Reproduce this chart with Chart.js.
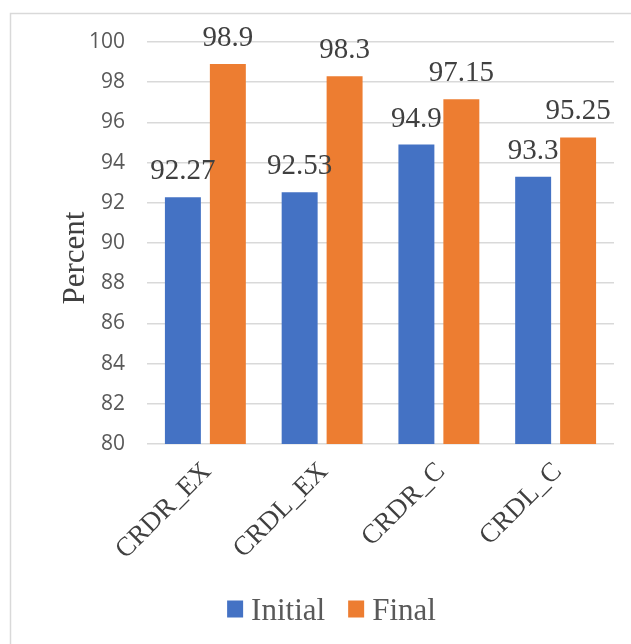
<!DOCTYPE html>
<html>
<head>
<meta charset="utf-8">
<script src="https://cdn.jsdelivr.net/npm/chart.js@4/dist/chart.umd.min.js"></script>
<style>
  html, body { margin: 0; padding: 0; background: #ffffff; }
  #wrap { position: relative; width: 631px; height: 644px; }
</style>
</head>
<body>
<div id="wrap"><canvas id="c" width="631" height="644"></canvas></div>
<script>
// Categories and series
const categories = ['CRDR_EX', 'CRDL_EX', 'CRDR_C', 'CRDL_C'];
const initialValues = [92.27, 92.53, 94.9, 93.3];
const finalValues = [98.9, 98.3, 97.15, 95.25];
const seriesNames = ['Initial', 'Final'];
const seriesColors = ['#4472C4', '#ED7D31'];
const yTitle = 'Percent';
const yMin = 80, yMax = 100, yStep = 2;

const SERIF = '"Liberation Serif", "Times New Roman", serif';
const SANS = '"Open Sans", "Liberation Sans", sans-serif';
const TEXT_DARK = '#404040';
const TEXT_GRAY = '#595959';

// Light frame around the chart area
const framePlugin = {
  id: 'frame',
  beforeDraw(chart) {
    const ctx = chart.ctx;
    ctx.save();
    ctx.fillStyle = '#ffffff';
    ctx.fillRect(0, 0, chart.width, chart.height);
    ctx.strokeStyle = '#d9d9d9';
    ctx.lineWidth = 1.5;
    ctx.strokeRect(10.5, 13.5, chart.width + 20, chart.height + 20);
    ctx.restore();
  }
};

// Value labels above every bar
const valueLabels = {
  id: 'valueLabels',
  afterDatasetsDraw(chart) {
    const ctx = chart.ctx;
    ctx.save();
    ctx.font = '29px ' + SERIF;
    ctx.fillStyle = TEXT_DARK;
    ctx.textAlign = 'center';
    ctx.textBaseline = 'alphabetic';
    chart.data.datasets.forEach((ds, di) => {
      const meta = chart.getDatasetMeta(di);
      meta.data.forEach((bar, i) => {
        ctx.fillText(String(ds.data[i]), bar.x, bar.y - 18);
      });
    });
    ctx.restore();
  }
};

// Rotated y-axis title and a compact legend with the swatch close to its text
const extras = {
  id: 'extras',
  afterDraw(chart) {
    const ctx = chart.ctx;
    ctx.save();
    // axis title
    ctx.font = '31px ' + SERIF;
    ctx.fillStyle = TEXT_DARK;
    ctx.textAlign = 'center';
    ctx.textBaseline = 'middle';
    ctx.translate(76, 258);
    ctx.rotate(-Math.PI / 2);
    ctx.fillText(yTitle, 0, 0);
    ctx.setTransform(1, 0, 0, 1, 0, 0);

    // legend
    ctx.font = '31px ' + SERIF;
    ctx.textAlign = 'left';
    ctx.textBaseline = 'alphabetic';
    const box = 16, gap = 8, itemGap = 23;
    const widths = chart.data.datasets.map(ds => ctx.measureText(ds.label).width);
    let total = 0;
    widths.forEach((w, i) => { total += box + gap + w + (i < widths.length - 1 ? itemGap : 0); });
    let x = 331.5 - total / 2;
    chart.data.datasets.forEach((ds, i) => {
      ctx.fillStyle = ds.backgroundColor;
      ctx.fillRect(x, 600.5, box, 17);
      ctx.fillStyle = TEXT_GRAY;
      ctx.fillText(ds.label, x + box + gap, 620);
      x += box + gap + widths[i] + itemGap;
    });
    ctx.restore();
  }
};

const PAD = { left: 55, right: 17, top: 42, bottom: 10 };
const PLOT_LEFT = 147, PLOT_BOTTOM = 444;

new Chart(document.getElementById('c'), {
  type: 'bar',
  data: {
    labels: categories,
    datasets: [
      { label: seriesNames[0], data: initialValues, backgroundColor: seriesColors[0], categoryPercentage: 0.77, barPercentage: 0.8 },
      { label: seriesNames[1], data: finalValues, backgroundColor: seriesColors[1], categoryPercentage: 0.77, barPercentage: 0.8 }
    ]
  },
  options: {
    responsive: false,
    animation: false,
    devicePixelRatio: 1,
    layout: { padding: PAD },
    plugins: {
      tooltip: { enabled: false },
      legend: { display: false }
    },
    scales: {
      x: {
        grid: { display: false },
        border: { display: false },
        ticks: {
          color: TEXT_DARK,
          font: { family: SERIF, size: 27 },
          minRotation: 45,
          maxRotation: 45,
          padding: 4,
          labelOffset: 2
        },
        afterFit(scale) {
          scale.height = scale.chart.height - PLOT_BOTTOM - PAD.bottom;
        }
      },
      y: {
        min: yMin,
        max: yMax,
        border: { display: false },
        grid: { color: '#d9d9d9', lineWidth: 1.5, drawTicks: false },
        ticks: {
          stepSize: yStep,
          color: TEXT_GRAY,
          font: { family: SANS, size: 21 },
          padding: 22
        },
        afterFit(scale) {
          scale.width = PLOT_LEFT - PAD.left;
        }
      }
    }
  },
  plugins: [framePlugin, valueLabels, extras]
});
</script>
</body>
</html>
